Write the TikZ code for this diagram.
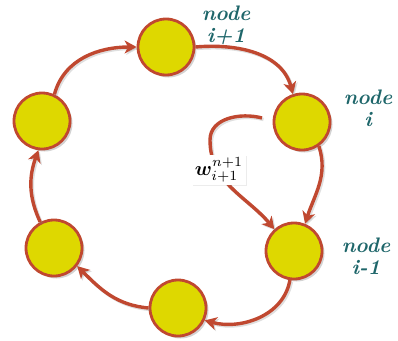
\documentclass[tikz,border=0pt]{standalone}
\usepackage{graphicx}
\usepackage{amsmath,bm}
\usetikzlibrary{arrows.meta,shadows}
\definecolor{nodeyellow}{RGB}{222,216,0}
\definecolor{edgered}{RGB}{192,72,48}
\definecolor{labelteal}{RGB}{30,102,106}
\tikzset{
  ball/.style={circle, minimum size=56pt, inner sep=0pt, fill=nodeyellow, draw=edgered, line width=2.8pt,
    drop shadow={shadow xshift=2.5pt, shadow yshift=-2.5pt, opacity=0.35, fill=gray}},
  link/.style={draw=edgered, line width=3.4pt, -{Stealth[length=12pt,width=13pt,inset=3.5pt]},
    preaction={draw=gray, opacity=0.25, line width=3.4pt, transform canvas={shift={(1.5pt,-1.5pt)}}}},
  nodelabel/.style={text=labelteal, font=\fontsize{21}{22}\selectfont\bfseries\itshape, align=center, inner sep=0pt},
  wlabel/.style={fill=white, inner sep=3pt, drop shadow={shadow xshift=1pt, shadow yshift=-1pt, opacity=0.15, fill=gray}}
}
\begin{document}
\begin{tikzpicture}[x=1pt,y=-1pt]
\useasboundingbox (0,0) rectangle (398,340);
\node[ball] (top) at (166,47) {};
\node[ball] (ni) at (302,122) {};
\node[ball] (nim) at (294,251) {};
\node[ball] (bot) at (178,308) {};
\node[ball] (ll) at (54,248) {};
\node[ball] (lu) at (42,121) {};

\node[nodelabel] (lt) at (226,25) {node\\i+1};
\node[nodelabel] (lni) at (368,108) {node\\i};
\node[nodelabel] (lnim) at (366,256) {node\\i-1};

\draw[link] (lu.65) to[out=75,in=180] (top.west);
\draw[link] (top.east) to[out=5,in=105] (ni.108);
\draw[link] (ni.-55) to[out=-72,in=72] (nim.68);
\draw[link] (nim.-98) to[out=-100,in=-15] (bot.-25);
\draw[link] (bot.west) to[out=175,in=-45] (ll.-38);
\draw[link] (ll.118) to[out=115,in=-110] (lu.-97);

\coordinate (ls) at (262,118);
\draw[link] (ls) to[out=165,in=90] (210,140) to[out=-90,in=130] (nim.132);
\node[wlabel] (w) at (219,170) {\scalebox{2}{$\bm{w}^{n+1}_{i+1}$}};
\end{tikzpicture}
\end{document}
